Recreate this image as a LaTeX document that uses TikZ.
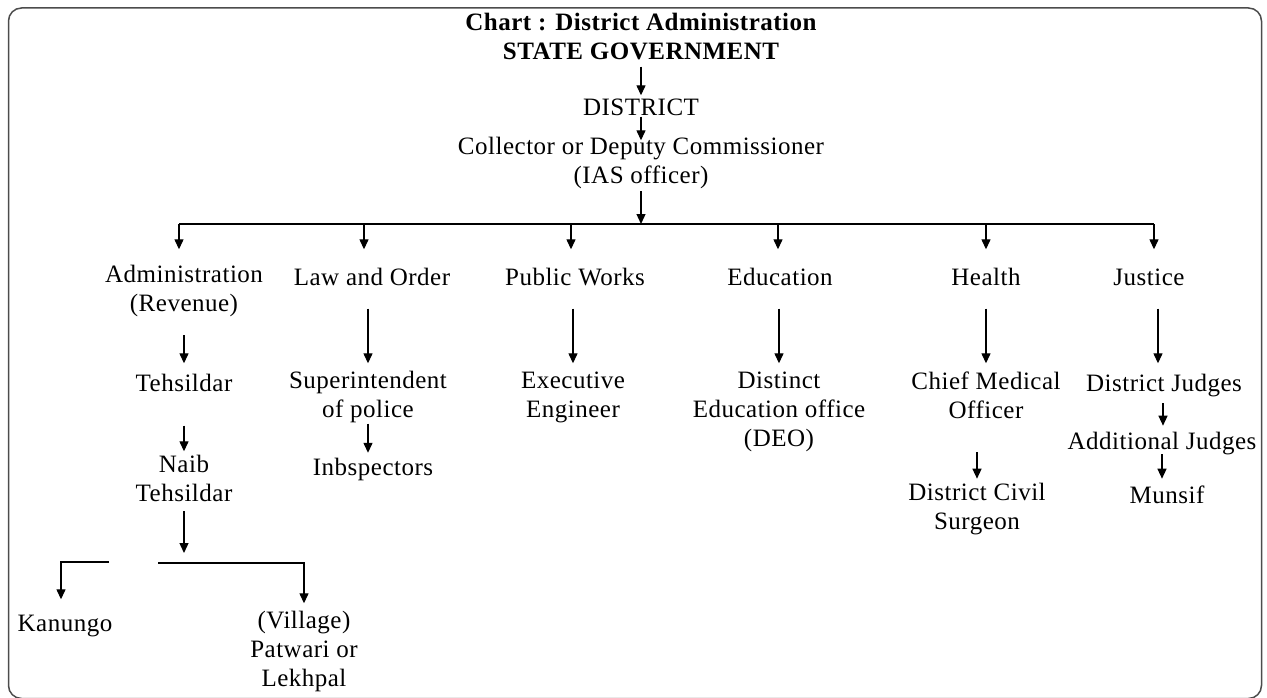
\documentclass[tikz,border=0pt]{standalone}
\usepackage{fontspec}
\newfontfamily\chartfont{Liberation Serif}[LetterSpace=2]
\usetikzlibrary{arrows.meta}
\begin{document}
\begin{tikzpicture}[x=1pt,y=-1pt,
  txt/.style={font=\chartfont\fontsize{25}{29}\selectfont, align=center, inner sep=0pt,
    anchor=north, yshift=11.7pt,
    execute at begin node={\rule{0pt}{20pt}},
    execute at end node={\rule[-7pt]{0pt}{7pt}}},
  arr/.style={line width=1.3pt, -{Triangle[length=10pt,width=9pt]}},
  ln/.style={line width=1.3pt}]
\useasboundingbox (0,0) rectangle (1267,698);
\draw[line width=1.5pt, black!70, rounded corners=13pt] (8.5,8) rectangle (1261.5,698.5);

% top
\node[txt] (title) at (641,22) {\bfseries Chart : District Administration};
\node[txt] (state) at (641,51) {\bfseries STATE GOVERNMENT};
\node[txt] (district) at (641,107) {DISTRICT};
\node[txt] (coll) at (641,149) {Collector or Deputy Commissioner\\(IAS officer)};

% departments
\node[txt] (admin) at (184,277) {Administration\\(Revenue)};
\node[txt] (law) at (372,277) {Law and Order};
\node[txt] (pw) at (575,277) {Public Works};
\node[txt] (edu) at (780,277) {Education};
\node[txt] (health) at (986,277) {Health};
\node[txt] (just) at (1149,277) {Justice};

% children
\node[txt] (tehs) at (184,383) {Tehsildar};
\node[txt] (naib) at (184,467) {Naib\\Tehsildar};
\node[txt] (kan) at (65,623) {Kanungo};
\node[txt] (vil) at (304,623) {(Village)\\Patwari or\\Lekhpal};
\node[txt] (sup) at (368,383) {Superintendent\\of police};
\node[txt] (insp) at (373,467) {Inbspectors};
\node[txt] (exe) at (573,383) {Executive\\Engineer};
\node[txt] (deo) at (779,383) {Distinct\\Education office\\(DEO)};
\node[txt] (cmo) at (986,383) {Chief Medical\\Officer};
\node[txt] (civil) at (977,495) {District Civil\\Surgeon};
\node[txt] (dj) at (1164,383) {District Judges};
\node[txt] (aj) at (1162,441) {Additional Judges};
\node[txt] (mun) at (1167,495) {Munsif};

% top connectors
\draw[arr] (state.south) -- (district.north);
\draw[arr] ([yshift=6pt]district.south) -- ([yshift=-3pt]coll.north);
\coordinate (bus) at (641,224);
\draw[arr] (coll.south) -- (bus);

% bus and drops
\coordinate (d1) at (179,224);
\coordinate (d2) at (364,224);
\coordinate (d3) at (571,224);
\coordinate (d4) at (778,224);
\coordinate (d5) at (986,224);
\coordinate (d6) at (1154,224);
\draw[ln] (d1) -- (d6);
\draw[arr] (d1) -- ([yshift=16pt]admin.north -| d1);
\draw[arr] (d2) -- ([yshift=16pt]law.north -| d2);
\draw[arr] (d3) -- ([yshift=16pt]pw.north -| d3);
\draw[arr] (d4) -- ([yshift=16pt]edu.north -| d4);
\draw[arr] (d5) -- ([yshift=16pt]health.north -| d5);
\draw[arr] (d6) -- ([yshift=16pt]just.north -| d6);

% department to first child
\draw[arr] ([yshift=-16pt]admin.south -| tehs.north) -- ([yshift=8pt]tehs.north);
\draw[arr] ([yshift=-16pt]law.south -| sup.north) -- ([yshift=8pt]sup.north);
\draw[arr] ([yshift=-16pt]pw.south -| exe.north) -- ([yshift=8pt]exe.north);
\draw[arr] ([yshift=-16pt]edu.south -| deo.north) -- ([yshift=8pt]deo.north);
\draw[arr] ([yshift=-16pt]health.south -| cmo.north) -- ([yshift=8pt]cmo.north);
\draw[arr] ([xshift=-6pt,yshift=-16pt]just.south -| dj.north) -- ([xshift=-6pt,yshift=8pt]dj.north);

% admin chain
\draw[arr] ([yshift=-27pt]tehs.south) -- ([yshift=4pt]naib.north);
\coordinate (split) at (184,553);
\draw[arr] ([yshift=-2pt]naib.south) -- (split);
\coordinate (kb) at (109,562);
\coordinate (vb) at (158,563);
\draw[arr] (kb) -| ([xshift=-4pt,yshift=12pt]kan.north);
\draw[arr] (vb) -| ([yshift=8pt]vil.north);

% law chain
\draw[arr] ([yshift=1.5pt]sup.south) -- ([yshift=2.5pt]insp.north -| sup.south);

% health chain
\draw[arr] ([yshift=-27pt]civil.north |- cmo.south) -- ([yshift=4.6pt]civil.north);

% justice chain
\draw[arr] ([xshift=-1pt,yshift=-4.4pt]dj.south) -- ([xshift=-1pt,yshift=3.6pt]aj.north -| dj.south);
\draw[arr] ([yshift=2.6pt]aj.south) -- ([yshift=4.6pt]mun.north -| aj.south);
\end{tikzpicture}
\end{document}
